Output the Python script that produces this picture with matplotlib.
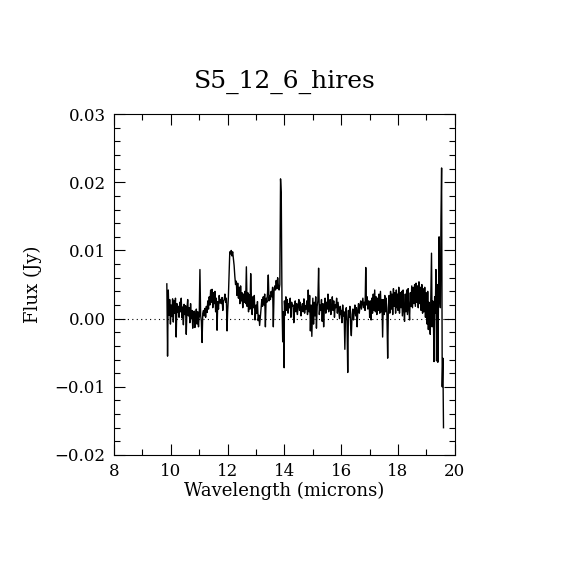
import numpy as np
import matplotlib
matplotlib.use("Agg")
import matplotlib.pyplot as plt
from matplotlib.ticker import MultipleLocator, FixedLocator

# flux, in mJy, segment by segment (wavelength in microns)
seg_a_range = (9.86, 11.0)
seg_a = [5.1, -5.5, 4.2, 0.5, 2.8, -0.8, 2.0, 0.3, 2.9, -0.5, 2.6, 0.8, 3.0, -2.7, 2.2, 0.9,
         1.8, 0.2, 2.4, 1.0, 3.0, 0.1, 1.7, -0.9, 2.1, 0.6, 1.9, -2.3, 1.5, 2.8, 0.4, 1.6,
         -0.6, 2.2, 0.0, 1.2, -1.4, 0.8, 1.1, -1.3, 0.5, 1.4, -0.8, 1.0, -1.2, 0.6]

seg_b_range = (11.0, 11.98)
seg_b = [0.3, 7.2, 0.5, -0.4, -3.5, 0.8, 1.2, 0.4, 1.5, 0.2, 1.8, 0.9, 2.6, 1.4, 3.2, 2.0,
         4.2, 2.4, 4.3, 1.6, 3.8, 2.2, 4.0, 1.0, 3.0, -1.7, 2.5, 1.4, 3.4, 2.3, 2.8, 2.2,
         3.1, 1.2, 2.6, 2.8, 3.6, 2.4, 3.0, -1.8]

seg_c_range = (12.0, 12.99)
seg_c = [1.0, 3.0, 6.5, 9.8, 9.5, 10.0, 9.2, 9.8, 8.8, 7.8, 6.2, 5.0, 5.5, 3.4, 5.2, 3.0,
         4.6, 2.2, 4.8, 2.6, 3.8, 1.6, 3.6, 2.4, 4.0, 2.2, 7.6, 1.8, 3.8, 1.0, 3.5, 1.4,
         6.6, 3.0, 0.6, 3.2, 1.6, 3.4, -0.2, 1.0]

seg_d_range = (13.0, 13.99)
seg_d = [2.0, 0.8, 2.5, -0.3, 0.5, -1.0, 0.2, 1.5, 2.8, 1.8, 3.2, 2.0, 3.6, -1.2, 3.0, 2.4,
         3.8, 6.4, 2.6, 3.4, 2.8, 4.0, 3.2, 4.6, -1.2, 4.0, 4.8, 4.2, 5.6, 4.4, 6.0, 4.8,
         4.2, 5.0, 20.5, 18.2, 2.4, -3.4, 1.0, -7.2]

seg_e_range = (14.0, 14.99)
seg_e = [2.6, 0.5, 3.2, 1.2, 2.8, 0.8, 2.2, 1.6, 3.0, 0.2, 2.4, 1.8, 2.0, -0.6, 1.4, 2.6,
         1.0, 2.2, 0.6, 1.8, 2.8, 1.2, 2.4, 0.4, 1.6, 2.2, 1.0, 2.9, 0.8, 1.9, 1.4, 2.6,
         0.6, 4.2, 1.0, 3.4, -1.8, 2.0, -2.6, 1.2]

seg_f_range = (15.0, 15.99)
seg_f = [3.0, -0.8, 2.4, 0.4, 3.2, -1.4, 1.8, 2.6, 7.4, 0.6, 2.0, 1.2, 2.8, -0.4, 2.2, -1.2,
         1.6, 3.0, 0.8, 2.4, 1.4, 3.6, 1.0, 2.2, 2.8, 0.6, 1.8, 3.2, 1.2, 2.6, 0.2, 2.0,
         1.6, 3.0, 0.8, 2.4, 1.2, 0.0, 1.8, 0.6]

seg_g_range = (16.0, 16.99)
seg_g = [1.2, -0.6, 2.0, 0.4, 1.0, -4.5, 0.8, 1.6, -0.4, -7.9, 1.2, 0.2, 1.8, -1.0, -2.5, 0.6,
         1.4, -0.2, 1.0, 2.0, 0.4, 1.6, -1.2, 1.2, 2.2, 0.8, 1.8, 2.6, 1.4, 2.2, 3.0, 1.6,
         2.4, 1.2, 7.5, 2.0, 3.2, 1.4, 2.6, 1.8]

seg_h_range = (17.0, 17.99)
seg_h = [0.2, 2.6, -0.2, 3.0, 0.8, 3.6, 1.2, 4.2, 1.0, 3.2, 0.6, 3.0, 1.2, 3.6, 0.8, 4.0,
         1.0, 2.8, -2.7, 2.8, 0.6, 3.4, 1.0, 3.0, 0.4, -5.8, 1.6, 3.4, 0.8, 4.0, 1.4, 3.6,
         0.6, 4.4, 1.8, 3.8, 0.8, 4.2, 1.6, 3.6]

seg_i_range = (18.0, 18.99)
seg_i = [1.2, 4.6, 0.8, 3.8, 1.6, 4.0, 0.4, 4.2, 1.2, -0.4, 3.6, 1.0, 4.2, 0.6, 4.4, 1.4,
         -0.2, 3.8, 1.8, 4.8, 1.6, 4.6, 2.2, 5.0, 1.8, 5.2, 2.4, 4.8, 1.6, 5.4, 2.2, 4.6,
         1.2, 5.0, 0.8, 4.4, 1.0, 4.6, 0.2, 3.8]

seg_j_range = (19.0, 19.6)
seg_j = [3.0, -0.8, 4.0, -1.6, 2.4, 0.6, -2.3, 3.8, 9.6, -1.2, 2.6, 0.2, -6.3, 3.2, 0.8, 7.2,
         -6.2, 5.0, -6.4, 2.0, 12.0, 4.0, 1.6, 14.7, 22.1, -10.0, -5.8, -16.0]

segments = [(seg_a_range, seg_a), (seg_b_range, seg_b), (seg_c_range, seg_c),
            (seg_d_range, seg_d), (seg_e_range, seg_e), (seg_f_range, seg_f),
            (seg_g_range, seg_g), (seg_h_range, seg_h), (seg_i_range, seg_i),
            (seg_j_range, seg_j)]

wave = np.concatenate([np.linspace(r[0], r[1], len(v)) for r, v in segments])
flux = np.concatenate([np.array(v) for r, v in segments]) * 1e-3  # mJy -> Jy

plt.rcParams['font.family'] = ['DejaVu Serif']

fig = plt.figure(figsize=(5.7, 5.7), dpi=100)
ax = fig.add_axes([0.2, 0.2018, 0.598, 0.598])

ax.plot(wave, flux, color='black', lw=1.0)
ax.axhline(0, color='black', lw=0.8, ls=(0, (1, 3)))

ax.set_xlim(8, 20)
ax.set_ylim(-0.02, 0.03)
ax.xaxis.set_major_locator(MultipleLocator(2))
ax.xaxis.set_minor_locator(MultipleLocator(1))
ax.yaxis.set_major_locator(FixedLocator([-0.02, -0.01, 0.0, 0.01, 0.02, 0.03]))
ax.yaxis.set_minor_locator(MultipleLocator(0.002))
ax.set_yticklabels(['\u22120.02', '\u22120.01', '0.00', '0.01', '0.02', '0.03'])

ax.tick_params(which='both', direction='in', top=True, right=True, width=0.8, labelsize=12, pad=6)
ax.tick_params(which='major', length=8)
ax.tick_params(which='minor', length=4)
for s in ax.spines.values():
    s.set_linewidth(0.8)

ax.set_xlabel('Wavelength (microns)', fontsize=13, labelpad=1)
ax.set_ylabel('Flux (Jy)', fontsize=13, labelpad=9)
ax.set_title('S5_12_6_hires', fontsize=18, pad=19)

fig.savefig('out.png', dpi=100)
